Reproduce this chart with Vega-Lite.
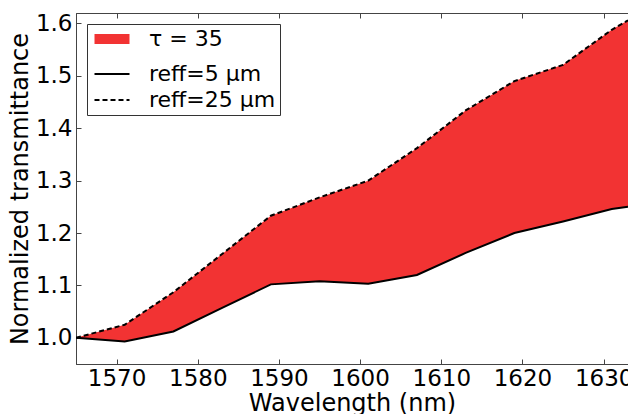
{
  "$schema": "https://vega.github.io/schema/vega-lite/v6.json",
  "width": 552,
  "height": 351,
  "autosize": {"type": "none"},
  "padding": {"left": 76, "top": 13, "right": 0, "bottom": 50},
  "background": "white",
  "config": {
    "font": "DejaVu Sans",
    "view": {"stroke": "#444444", "strokeWidth": 1},
    "axis": {
      "grid": false,
      "domainColor": "#444444",
      "tickColor": "#444444",
      "tickSize": -5,
      "labelPadding": 9,
      "labelFont": "DejaVu Sans",
      "labelFontSize": 23,
      "labelColor": "black",
      "titleFont": "DejaVu Sans",
      "titleFontSize": 24,
      "titleFontWeight": "normal",
      "titleColor": "black"
    }
  },
  "data": {
    "values": [
      {"wl": 1565, "lo": 1.000, "hi": 1.000},
      {"wl": 1571, "lo": 0.993, "hi": 1.025},
      {"wl": 1577, "lo": 1.012, "hi": 1.087},
      {"wl": 1583, "lo": 1.057, "hi": 1.160},
      {"wl": 1589, "lo": 1.102, "hi": 1.233},
      {"wl": 1595, "lo": 1.108, "hi": 1.268},
      {"wl": 1601, "lo": 1.103, "hi": 1.300},
      {"wl": 1607, "lo": 1.120, "hi": 1.362},
      {"wl": 1613, "lo": 1.162, "hi": 1.434},
      {"wl": 1619, "lo": 1.200, "hi": 1.490},
      {"wl": 1625, "lo": 1.222, "hi": 1.521},
      {"wl": 1631, "lo": 1.246, "hi": 1.588},
      {"wl": 1633, "lo": 1.250, "hi": 1.606}
    ]
  },
  "layer": [
    {
      "mark": {"type": "area", "clip": true, "opacity": 1},
      "encoding": {
        "x": {
          "field": "wl", "type": "quantitative",
          "scale": {"domain": [1565, 1633], "nice": false, "zero": false},
          "axis": {
            "orient": "bottom",
            "values": [1570, 1580, 1590, 1600, 1610, 1620, 1630],
            "format": "d",
            "labelPadding": 8,
            "title": "Wavelength (nm)",
            "titlePadding": 1
          }
        },
        "y": {
          "field": "lo", "type": "quantitative",
          "scale": {"domain": [0.95, 1.62], "nice": false, "zero": false},
          "axis": {
            "orient": "left",
            "values": [1.0, 1.1, 1.2, 1.3, 1.4, 1.5, 1.6],
            "format": ".1f",
            "title": "Normalized transmittance",
            "titlePadding": 3
          }
        },
        "y2": {"field": "hi"},
        "color": {
          "datum": "τ = 35", "type": "nominal",
          "scale": {"domain": ["τ = 35", "reff=5 μm", "reff=25 μm"], "range": ["#f23333", "black", "black"]},
          "legend": {
            "title": null, "orient": "top-left", "offset": 11, "padding": 4,
            "strokeColor": "#333333", "fillColor": "white", "cornerRadius": 0,
            "symbolType": "stroke", "symbolSize": 1225, "symbolStrokeWidth": 2, "symbolOffset": 10,
            "labelFont": "DejaVu Sans", "labelFontSize": 22, "labelColor": "black",
            "labelOffset": 26, "rowPadding": 4, "labelLimit": 300,
            "encode": {
              "symbols": {
                "update": {
                  "size": {"value": 1225},
                  "fill": {"value": "transparent"},
                  "stroke": {"signal": "datum.value === 'τ = 35' ? '#f23333' : 'black'"},
                  "strokeWidth": {"signal": "datum.value === 'τ = 35' ? 10 : 2"},
                  "strokeDash": {"signal": "datum.value === 'reff=25 μm' ? [5, 3] : [1, 0]"},
                  "opacity": {"value": 1}
                }
              }
            }
          }
        }
      }
    },
    {
      "mark": {"type": "line", "clip": true, "strokeWidth": 2},
      "encoding": {
        "x": {
          "field": "wl", "type": "quantitative",
          "axis": {"orient": "bottom", "labels": false, "ticks": false, "domain": false, "title": null}
        },
        "y": {"field": "lo", "type": "quantitative"},
        "color": {
          "datum": "reff=5 μm", "type": "nominal",
          "legend": {
            "title": null, "orient": "top-left", "offset": 11, "padding": 4,
            "strokeColor": "#333333", "fillColor": "white", "cornerRadius": 0,
            "symbolType": "stroke", "symbolSize": 1225, "symbolStrokeWidth": 2, "symbolOffset": 10,
            "labelFont": "DejaVu Sans", "labelFontSize": 22, "labelColor": "black",
            "labelOffset": 26, "rowPadding": 4, "labelLimit": 300,
            "encode": {
              "symbols": {
                "update": {
                  "size": {"value": 1225},
                  "fill": {"value": "transparent"},
                  "stroke": {"signal": "datum.value === 'τ = 35' ? '#f23333' : 'black'"},
                  "strokeWidth": {"signal": "datum.value === 'τ = 35' ? 10 : 2"},
                  "strokeDash": {"signal": "datum.value === 'reff=25 μm' ? [5, 3] : [1, 0]"},
                  "opacity": {"value": 1}
                }
              }
            }
          }
        }
      }
    },
    {
      "mark": {"type": "line", "clip": true, "strokeWidth": 2, "strokeDash": [5, 3]},
      "encoding": {
        "x": {
          "field": "wl", "type": "quantitative",
          "axis": {"orient": "top", "labels": false, "title": null, "values": [1570, 1580, 1590, 1600, 1610, 1620, 1630]}
        },
        "y": {"field": "hi", "type": "quantitative"},
        "color": {
          "datum": "reff=25 μm", "type": "nominal",
          "legend": {
            "title": null, "orient": "top-left", "offset": 11, "padding": 4,
            "strokeColor": "#333333", "fillColor": "white", "cornerRadius": 0,
            "symbolType": "stroke", "symbolSize": 1225, "symbolStrokeWidth": 2, "symbolOffset": 10,
            "labelFont": "DejaVu Sans", "labelFontSize": 22, "labelColor": "black",
            "labelOffset": 26, "rowPadding": 4, "labelLimit": 300,
            "encode": {
              "symbols": {
                "update": {
                  "size": {"value": 1225},
                  "fill": {"value": "transparent"},
                  "stroke": {"signal": "datum.value === 'τ = 35' ? '#f23333' : 'black'"},
                  "strokeWidth": {"signal": "datum.value === 'τ = 35' ? 10 : 2"},
                  "strokeDash": {"signal": "datum.value === 'reff=25 μm' ? [5, 3] : [1, 0]"},
                  "opacity": {"value": 1}
                }
              }
            }
          }
        }
      }
    }
  ]
}
